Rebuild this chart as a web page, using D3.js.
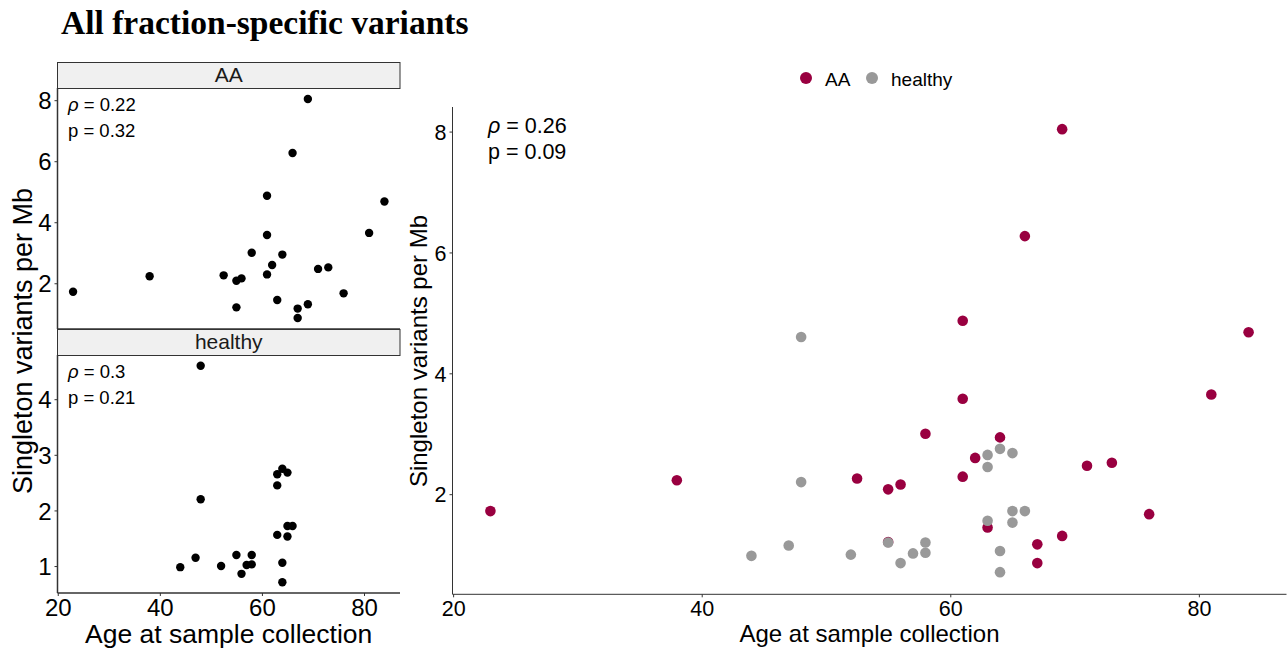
<!DOCTYPE html>
<html>
<head>
<meta charset="utf-8">
<script src="https://cdn.jsdelivr.net/npm/d3@7"></script>
<style>
  body { margin: 0; background: #fff; }
  svg { display: block; font-family: "Liberation Sans", Arial, sans-serif; }
  .axis path, .axis line { stroke: #333; }
  .axis text { fill: #000; font-family: "Liberation Sans", Arial, sans-serif; }
</style>
</head>
<body>
<svg id="chart" width="1287" height="650"></svg>
<script>
// values
const groups = ["AA", "healthy"];
const groupColors = ["#990040", "#999999"];

const aaAge = [23, 38, 52.5, 55, 56, 55, 58, 61, 61, 61, 62, 64, 63, 66, 67, 67, 69, 69, 71, 73, 76, 81, 84];
const aaRate = [1.72, 2.23, 2.26, 2.08, 2.16, 1.21, 3.00, 4.87, 3.58, 2.29, 2.60, 2.94, 1.45, 6.27, 1.17, 0.86, 8.04, 1.31, 2.47, 2.52, 1.67, 3.65, 4.68];

const healthyAge = [48, 48, 44, 47, 52, 55, 56, 57, 58, 58, 63, 63, 64, 65, 63, 65, 66, 65, 64, 64];
const healthyRate = [4.60, 2.20, 0.98, 1.15, 1.00, 1.20, 0.86, 1.02, 1.20, 1.03, 2.65, 2.45, 2.75, 2.68, 1.56, 1.72, 1.72, 1.53, 1.06, 0.71];

const rhoLabels = ["0.22", "0.3"];
const pLabels = ["0.32", "0.21"];
const rhoAll = "0.26", pAll = "0.09";

const xTicks = [20, 40, 60, 80];
const aaYTicks = [2, 4, 6, 8];
const healthyYTicks = [1, 2, 3, 4];
const allYTicks = [2, 4, 6, 8];

const svg = d3.select("#chart");

function pts(ages, rates) {
    return ages.map((a, i) => ({ age: a, rate: rates[i] }));
}
const aaPts = pts(aaAge, aaRate);
const hPts = pts(healthyAge, healthyRate);

// ggplot-like 5% expansion
function expanded(vals) {
    const [lo, hi] = d3.extent(vals);
    const pad = (hi - lo) * 0.05;
    return [lo - pad, hi + pad];
}

const xDomain = expanded(aaAge.concat(healthyAge));

// title
svg.append("text")
    .attr("x", 61).attr("y", 34)
    .style("font-family", "'Liberation Serif', 'Times New Roman', serif")
    .style("font-weight", "bold")
    .style("font-size", "33.5px")
    .text("All fraction-specific variants");

// ---------- left: faceted panels ----------
const leftX = d3.scaleLinear().domain(xDomain).range([57.5, 400]);

const facets = [
    { name: groups[0], data: aaPts, ticks: aaYTicks, top: 62, stripH: 26, bottom: 329, rho: rhoLabels[0], p: pLabels[0] },
    { name: groups[1], data: hPts, ticks: healthyYTicks, top: 329, stripH: 26, bottom: 593, rho: rhoLabels[1], p: pLabels[1] }
];

facets.forEach((f, fi) => {
    const plotTop = f.top + f.stripH;
    const y = d3.scaleLinear().domain(expanded(f.data.map(d => d.rate))).range([f.bottom, plotTop]);

    // strip
    svg.append("rect")
        .attr("x", 57.5).attr("y", f.top + 0.5)
        .attr("width", 342.5).attr("height", f.stripH)
        .attr("fill", "#f0f0f0").attr("stroke", "#333").attr("stroke-width", 1);
    svg.append("text")
        .attr("x", (57.5 + 400) / 2).attr("y", f.top + 20)
        .attr("text-anchor", "middle")
        .style("font-size", "21px").attr("fill", "#1a1a1a")
        .text(f.name);

    // y axis
    const ya = svg.append("g").attr("class", "axis")
        .attr("transform", "translate(57.5,0)")
        .call(d3.axisLeft(y).tickValues(f.ticks).tickSize(3).tickPadding(3).tickFormat(d3.format("d")));
    ya.attr("font-size", 24).attr("font-family", "Liberation Sans");
    ya.select(".domain").attr("d", `M0,${plotTop}V${f.bottom}`).attr("stroke", "#777").attr("stroke-width", 1.5);
    ya.selectAll(".tick line").attr("stroke", "#777");
    ya.selectAll("text").attr("dy", "0.36em");

    // x axis line
    const xa = svg.append("g").attr("class", "axis")
        .attr("transform", `translate(0,${f.bottom})`)
        .call(d3.axisBottom(leftX).tickValues(xTicks).tickSize(fi === 1 ? 3 : 0).tickPadding(2).tickFormat(d3.format("d")));
    xa.attr("font-size", 24).attr("font-family", "Liberation Sans");
    xa.select(".domain").attr("d", `M57.5,0H400`).attr("stroke", "#000").attr("stroke-width", 1.5);
    if (fi === 0) xa.selectAll(".tick").remove();
    else xa.selectAll("text").attr("dy", "0.74em");

    // points
    svg.append("g").selectAll("circle")
        .data(f.data).join("circle")
        .attr("cx", d => leftX(d.age))
        .attr("cy", d => y(d.rate))
        .attr("r", 4.2)
        .attr("fill", "#000");

    // correlation text
    const ann = svg.append("text").attr("x", 68).style("font-size", "18.5px").attr("fill", "#000");
    const t1 = ann.append("tspan").attr("x", 68).attr("y", plotTop + 23);
    t1.append("tspan").style("font-style", "italic").text("ρ");
    t1.append("tspan").text(" = " + f.rho);
    ann.append("tspan").attr("x", 68).attr("y", plotTop + 49).text("p = " + f.p);
});

// left axis titles
svg.append("text")
    .attr("transform", "translate(32,341) rotate(-90)")
    .attr("text-anchor", "middle")
    .style("font-size", "27px")
    .text("Singleton variants per Mb");
svg.append("text")
    .attr("x", 228.7).attr("y", 643)
    .attr("text-anchor", "middle")
    .style("font-size", "26.5px")
    .text("Age at sample collection");

// ---------- right: combined panel ----------
const rx0 = 452.5, rx1 = 1286.5, ry0 = 107, ry1 = 594.3;
const x = d3.scaleLinear().domain(xDomain).range([rx0, rx1]);
const y = d3.scaleLinear().domain(expanded(aaRate.concat(healthyRate))).range([ry1, ry0]);
const color = d3.scaleOrdinal().domain(groups).range(groupColors);

const gx = svg.append("g").attr("class", "axis")
    .attr("transform", `translate(0,${ry1})`)
    .call(d3.axisBottom(x).tickValues(xTicks).tickSize(3).tickPadding(3).tickFormat(d3.format("d")));
gx.attr("font-size", 21.5).attr("font-family", "Liberation Sans");
gx.select(".domain").attr("d", `M${rx0},0H${rx1}`);
gx.selectAll("text").attr("dy", "0.74em");

const gy = svg.append("g").attr("class", "axis")
    .attr("transform", `translate(${rx0},0)`)
    .call(d3.axisLeft(y).tickValues(allYTicks).tickSize(3).tickPadding(3).tickFormat(d3.format("d")));
gy.attr("font-size", 21.5).attr("font-family", "Liberation Sans");
gy.select(".domain").attr("d", `M0,${ry0}V${ry1}`);
gy.selectAll("text").attr("dy", "0.36em");

svg.append("g").selectAll("circle")
    .data(aaPts.map(d => ({ ...d, g: groups[0] })).concat(hPts.map(d => ({ ...d, g: groups[1] }))))
    .join("circle")
    .attr("cx", d => x(d.age))
    .attr("cy", d => y(d.rate))
    .attr("r", 5.3)
    .attr("fill", d => color(d.g));

const ann = svg.append("text").style("font-size", "21.5px").attr("fill", "#000");
const r1 = ann.append("tspan").attr("x", 488).attr("y", 132.5);
r1.append("tspan").style("font-style", "italic").text("ρ");
r1.append("tspan").text(" = " + rhoAll);
ann.append("tspan").attr("x", 488).attr("y", 159).text("p = " + pAll);

svg.append("text")
    .attr("transform", "translate(427,351) rotate(-90)")
    .attr("text-anchor", "middle")
    .style("font-size", "24px")
    .text("Singleton variants per Mb");
svg.append("text")
    .attr("x", (rx0 + rx1) / 2).attr("y", 642)
    .attr("text-anchor", "middle")
    .style("font-size", "24px")
    .text("Age at sample collection");

// legend
const legX = [806, 872];
const leg = svg.append("g").selectAll("g").data(groups).join("g")
    .attr("transform", (d, i) => `translate(${legX[i]},78)`);
leg.append("circle").attr("r", 6).attr("fill", d => color(d));
leg.append("text").attr("x", 19).attr("y", 7.5)
    .style("font-size", "19px")
    .text(d => d);
</script>
</body>
</html>
